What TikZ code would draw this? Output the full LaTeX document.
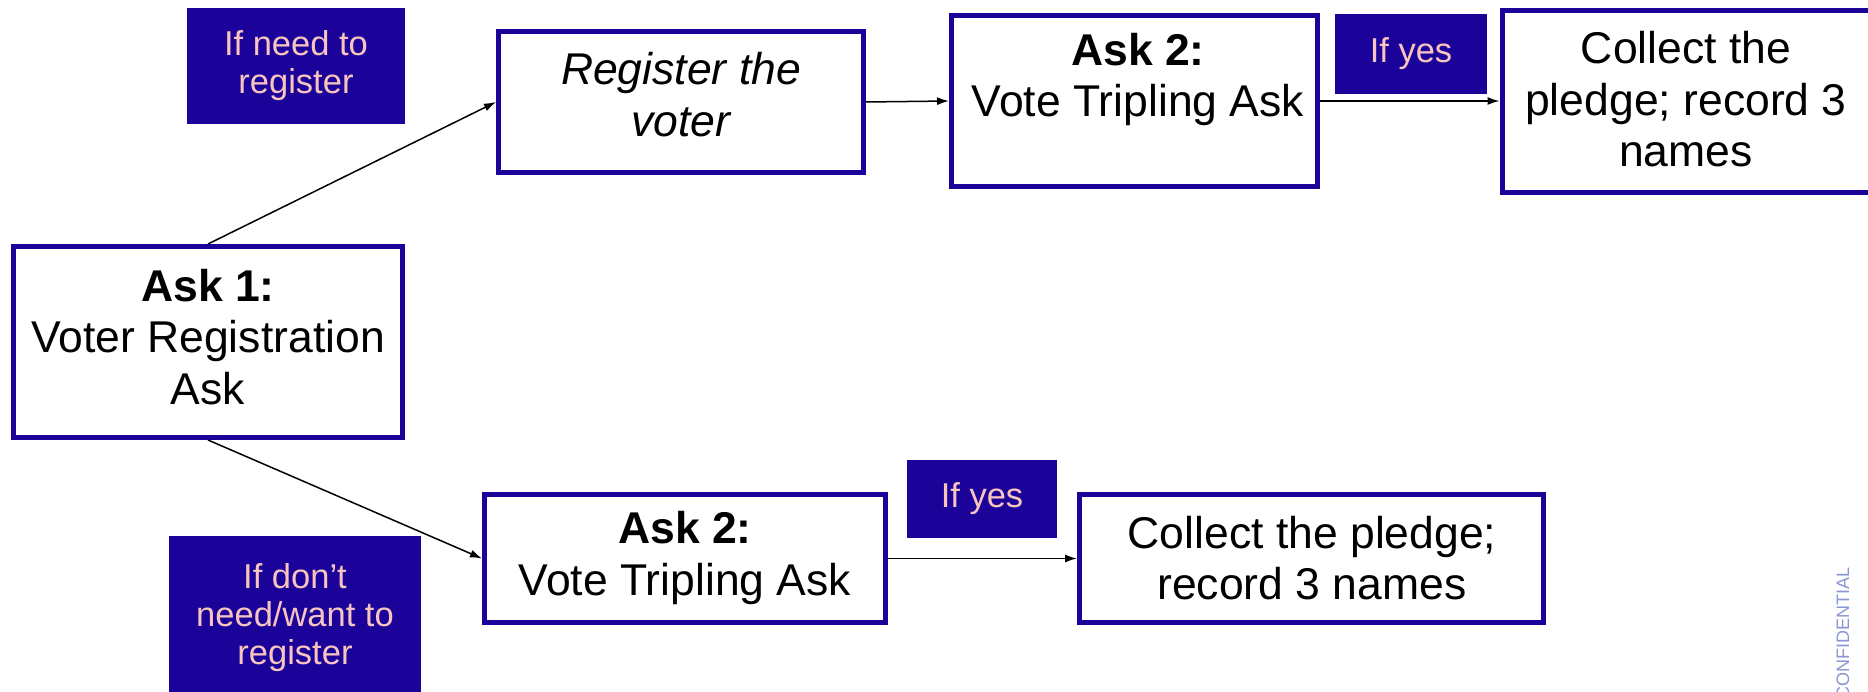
\documentclass[tikz,border=0pt]{standalone}
\usepackage{fontspec}
\setmainfont{Liberation Sans}
\usetikzlibrary{arrows.meta}
\definecolor{boxblue}{HTML}{1A0399}
\definecolor{labfill}{HTML}{1B0399}
\definecolor{labtext}{HTML}{F8C4C0}
\definecolor{conf}{HTML}{8A96D2}
\tikzset{
  box/.style={draw=boxblue, line width=5pt, fill=white, inner sep=0pt},
  lab/.style={fill=labfill, text=labtext, inner sep=0pt, align=center,
    font=\fontsize{34.5}{38}\selectfont},
  txt/.style={inner sep=0pt, align=center, font=\fontsize{44.5}{51.5}\selectfont},
  conn/.style={line width=1.5pt, -{Latex[length=12pt,width=8pt]}}
}
\begin{document}
\begin{tikzpicture}[x=1pt,y=-1pt]
\useasboundingbox (0,0) rectangle (1868,692);
\clip (0,0) rectangle (1868,692);
\fill[white] (0,0) rectangle (1868,692);
% boxes
\node[box, minimum width=389pt, minimum height=191pt] (ask1) at (208,342) {};
\node[box, minimum width=365pt, minimum height=141pt] (reg) at (681,102) {};
\node[box, minimum width=366pt, minimum height=171pt] (ask2t) at (1134.5,101) {};
\node[box, minimum width=378pt, minimum height=182pt] (collt) at (1691,101.5) {};
\node[box, minimum width=401pt, minimum height=128pt] (ask2b) at (685,558.5) {};
\node[box, minimum width=464pt, minimum height=128pt] (collb) at (1311.5,558.5) {};
% texts
\node[txt] (ask1t) at (208,337) {\textbf{Ask 1:}\\Voter Registration\\Ask};
\node[txt] (regt) at (681,94.5) {\itshape Register the\\\itshape voter};
\node[txt] (ask2tt) at (1138,79.5) {\textbf{Ask 2:}\\Vote Tripling Ask};
\node[txt] (colltt) at (1686,99.5) {Collect the\\pledge; record 3\\names};
\node[txt] (ask2bt) at (685,558) {\textbf{Ask 2:}\\Vote Tripling Ask};
\node[txt] (collbt) at (1312,558) {Collect the pledge;\\record 3 names};
% labels
\node[lab, minimum width=218pt, minimum height=116pt] (lab1) at (296,66) {If need to\\register};
\node[lab, minimum width=152pt, minimum height=80pt] (yes1) at (1411,54) {If yes};
\node[lab, minimum width=150pt, minimum height=78pt] (yes2) at (982,499) {If yes};
\node[lab, minimum width=252pt, minimum height=164pt] (lab2) at (295,618) {If don’t\\need/want to\\register};
% connectors
\draw[conn] (ask1.north) -- (reg.west);
\draw[conn] (ask1.south) -- (ask2b.west);
\draw[conn] (reg.east) -- (ask2t.west);
\draw[conn] (ask2t.east) -- (ask2t.east -| collt.west);
\draw[conn] (ask2b.east) -- (collb.west);
% confidential
\node[rotate=90, anchor=east, text=conf, inner sep=0pt, font=\fontsize{18}{20}\selectfont] (conft) at (1843,567) {CONFIDENTIAL};
\end{tikzpicture}
\end{document}
